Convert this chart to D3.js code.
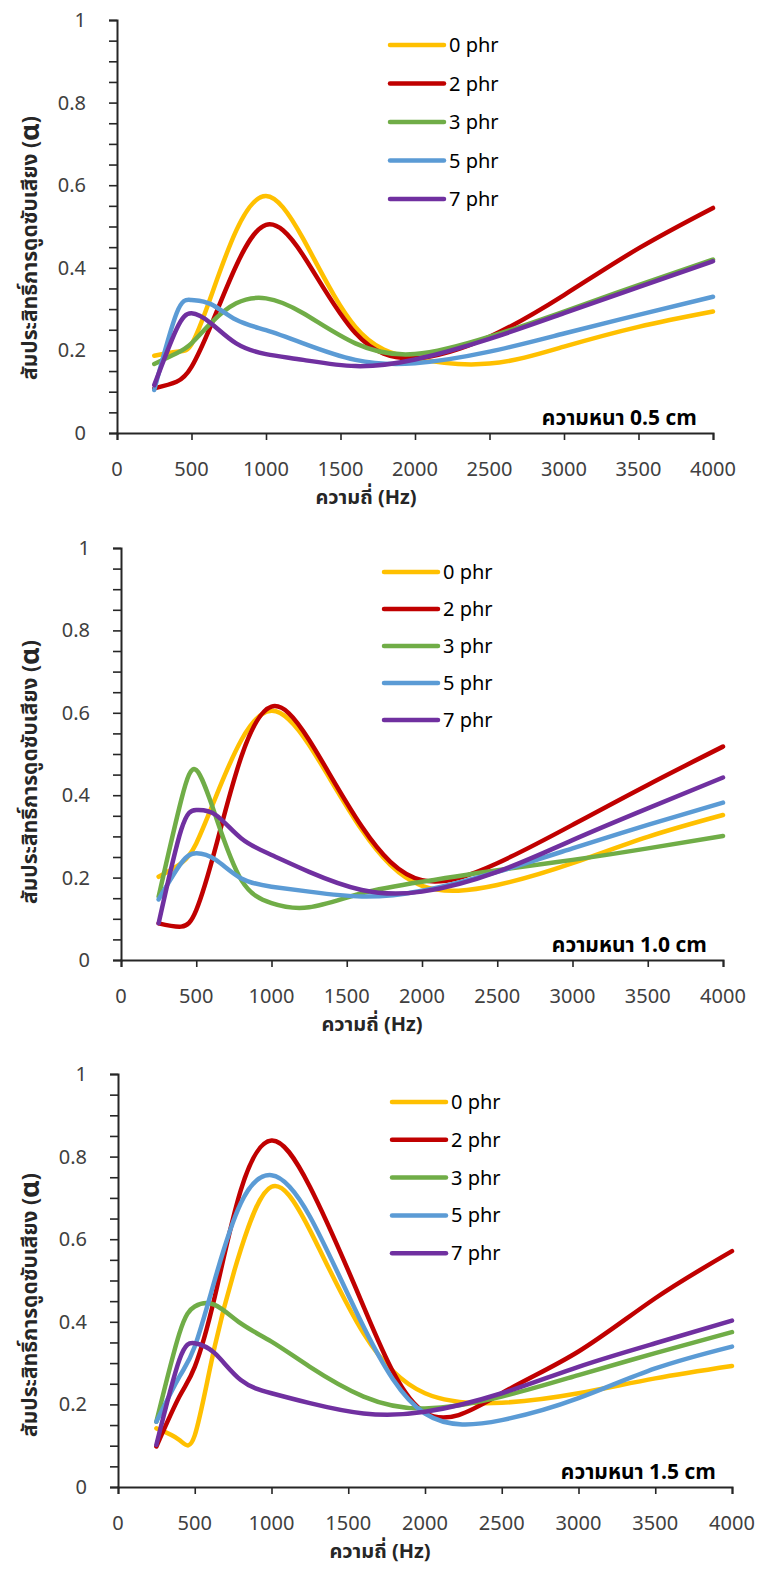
<!DOCTYPE html>
<html>
<head>
<meta charset="utf-8">
<script src="https://cdn.jsdelivr.net/npm/d3@7"></script>
<style>
  body { margin: 0; background: #fff; }
  svg { display: block; font-family: "Noto Sans Thai", "Leelawadee UI", Tahoma, "Noto Sans", sans-serif; }
</style>
</head>
<body>
<div id="chart"></div>
<script>
// frequency bands (Hz)
const freqs = [250, 400, 500, 630, 800, 1000, 1250, 1600, 2000, 2500, 3000, 3500, 4000];
const seriesNames = ['0 phr', '2 phr', '3 phr', '5 phr', '7 phr'];
const seriesColors = ['#FFC000', '#C00000', '#70AD47', '#5B9BD5', '#7030A0'];
const thicknessLabels = ['ความหนา 0.5 cm', 'ความหนา 1.0 cm', 'ความหนา 1.5 cm'];
const xTicks = [0, 500, 1000, 1500, 2000, 2500, 3000, 3500, 4000];
const yTicks = [0, 0.2, 0.4, 0.6, 0.8, 1];

// sound absorption coefficient, one row per series (0, 2, 3, 5, 7 phr)
const alpha05 = [
  [0.187, 0.197, 0.215, 0.330, 0.490, 0.574, 0.470, 0.257, 0.180, 0.168, 0.209, 0.257, 0.294],
  [0.108, 0.124, 0.160, 0.260, 0.405, 0.504, 0.430, 0.242, 0.181, 0.233, 0.334, 0.447, 0.545],
  [0.167, 0.193, 0.217, 0.266, 0.314, 0.326, 0.290, 0.217, 0.191, 0.233, 0.294, 0.358, 0.420],
  [0.104, 0.290, 0.322, 0.312, 0.274, 0.249, 0.217, 0.177, 0.169, 0.197, 0.241, 0.286, 0.330],
  [0.116, 0.252, 0.290, 0.266, 0.217, 0.191, 0.177, 0.162, 0.178, 0.228, 0.290, 0.353, 0.416],
];
const alpha10 = [
  [0.202, 0.235, 0.283, 0.396, 0.534, 0.605, 0.522, 0.316, 0.180, 0.182, 0.235, 0.299, 0.352],
  [0.089, 0.081, 0.121, 0.275, 0.494, 0.615, 0.534, 0.324, 0.194, 0.235, 0.328, 0.425, 0.518],
  [0.154, 0.388, 0.461, 0.348, 0.194, 0.138, 0.128, 0.162, 0.190, 0.218, 0.243, 0.271, 0.301],
  [0.147, 0.235, 0.259, 0.243, 0.198, 0.178, 0.166, 0.154, 0.168, 0.214, 0.271, 0.328, 0.382],
  [0.089, 0.316, 0.364, 0.352, 0.295, 0.255, 0.214, 0.170, 0.166, 0.214, 0.291, 0.368, 0.443],
];
const alpha15 = [
  [0.142, 0.114, 0.125, 0.340, 0.575, 0.727, 0.622, 0.372, 0.227, 0.204, 0.227, 0.263, 0.293],
  [0.098, 0.219, 0.291, 0.460, 0.719, 0.839, 0.727, 0.437, 0.180, 0.227, 0.328, 0.457, 0.571],
  [0.158, 0.372, 0.437, 0.441, 0.396, 0.352, 0.291, 0.219, 0.190, 0.219, 0.271, 0.324, 0.375],
  [0.158, 0.267, 0.340, 0.501, 0.687, 0.755, 0.655, 0.388, 0.178, 0.162, 0.215, 0.287, 0.340],
  [0.102, 0.308, 0.348, 0.324, 0.259, 0.227, 0.203, 0.178, 0.182, 0.227, 0.291, 0.348, 0.403],
];

const width = 758;
const height = 1569;

// layout of the three stacked panels
const panels = [
  { data: alpha05, top: 20, bottom: 433, left: 117, right: 713, xLabelX: 366, yLabelY: 248, legendX: 390, legendY: 45, legendGap: 38.5 },
  { data: alpha10, top: 548, bottom: 960, left: 121, right: 723, xLabelX: 372, yLabelY: 772, legendX: 384, legendY: 572, legendGap: 37 },
  { data: alpha15, top: 1074, bottom: 1487, left: 118, right: 732, xLabelX: 380, yLabelY: 1305, legendX: 392, legendY: 1102, legendGap: 37.8 },
];

const svg = d3.select('#chart')
  .append('svg')
  .attr('width', width)
  .attr('height', height);

panels.forEach((p, pi) => {
  const x = d3.scaleLinear().domain([0, 4000]).range([p.left, p.right]);
  const y = d3.scaleLinear().domain([0, 1]).range([p.bottom, p.top]);
  const g = svg.append('g');

  // y axis with minor ticks every 0.05
  const yAxis = g.append('g')
    .attr('transform', `translate(${p.left},0)`)
    .call(d3.axisLeft(y).tickValues(d3.range(0, 1.0001, 0.05)).tickSize(8).tickFormat(''));
  yAxis.select('.domain').attr('stroke', '#262626').attr('stroke-width', 2);
  yAxis.selectAll('.tick line').attr('stroke', '#262626').attr('stroke-width', 1.6);

  g.selectAll('.ylab')
    .data(yTicks)
    .enter()
    .append('text')
    .attr('x', p.left - 31)
    .attr('y', (d) => y(d))
    .attr('dy', '0.35em')
    .attr('text-anchor', 'end')
    .style('font-size', '20px')
    .style('fill', '#404040')
    .text((d) => String(+d.toFixed(1)));

  // x axis
  const xAxis = g.append('g')
    .attr('transform', `translate(0,${p.bottom})`)
    .call(d3.axisBottom(x).tickValues(xTicks).tickSize(7).tickFormat(''));
  xAxis.select('.domain').attr('stroke', '#262626').attr('stroke-width', 2);
  xAxis.selectAll('.tick line').attr('stroke', '#262626').attr('stroke-width', 1.6);

  g.selectAll('.xlab')
    .data(xTicks)
    .enter()
    .append('text')
    .attr('x', (d) => x(d))
    .attr('y', p.bottom + 43)
    .attr('text-anchor', 'middle')
    .style('font-size', '20px')
    .style('fill', '#404040')
    .text((d) => d);

  // axis titles
  g.append('text')
    .attr('x', p.xLabelX)
    .attr('y', p.bottom + 71)
    .attr('text-anchor', 'middle')
    .style('font-size', '20px')
    .style('font-weight', 'bold')
    .style('fill', '#262626')
    .text('ความถี่ (Hz)');

  const yTitle = g.append('text')
    .attr('transform', `translate(30,${p.yLabelY}) rotate(-90)`)
    .attr('text-anchor', 'middle')
    .attr('dominant-baseline', 'central')
    .style('font-size', '21px')
    .style('font-weight', 'bold')
    .style('fill', '#262626');
  yTitle.append('tspan').text('สัมประสิทธิ์การดูดซับเสียง (');
  yTitle.append('tspan').style('font-size', '27px').text('α');
  yTitle.append('tspan').text(')');

  g.append('text')
    .attr('x', p.right - 16)
    .attr('y', p.bottom - 8)
    .attr('text-anchor', 'end')
    .style('font-size', '21px')
    .style('font-weight', 'bold')
    .style('fill', '#000')
    .text(thicknessLabels[pi]);

  // series lines
  const line = d3.line()
    .x((d) => x(d[0]))
    .y((d) => y(d[1]))
    .curve(d3.curveNatural);

  p.data.forEach((vals, si) => {
    g.append('path')
      .datum(freqs.map((f, i) => [f, vals[i]]))
      .attr('d', line)
      .attr('fill', 'none')
      .attr('stroke', seriesColors[si])
      .attr('stroke-width', 4.5)
      .attr('stroke-linecap', 'round');
  });

  // legend
  const legend = g.append('g');
  seriesNames.forEach((name, si) => {
    const ly = p.legendY + si * p.legendGap;
    legend.append('line')
      .attr('x1', p.legendX)
      .attr('x2', p.legendX + 54)
      .attr('y1', ly)
      .attr('y2', ly)
      .attr('stroke', seriesColors[si])
      .attr('stroke-width', 4.5)
      .attr('stroke-linecap', 'round');
    legend.append('text')
      .attr('x', p.legendX + 59)
      .attr('y', ly)
      .attr('dy', '0.35em')
      .style('font-size', '20px')
      .style('fill', '#000')
      .text(name);
  });
});
</script>
</body>
</html>
